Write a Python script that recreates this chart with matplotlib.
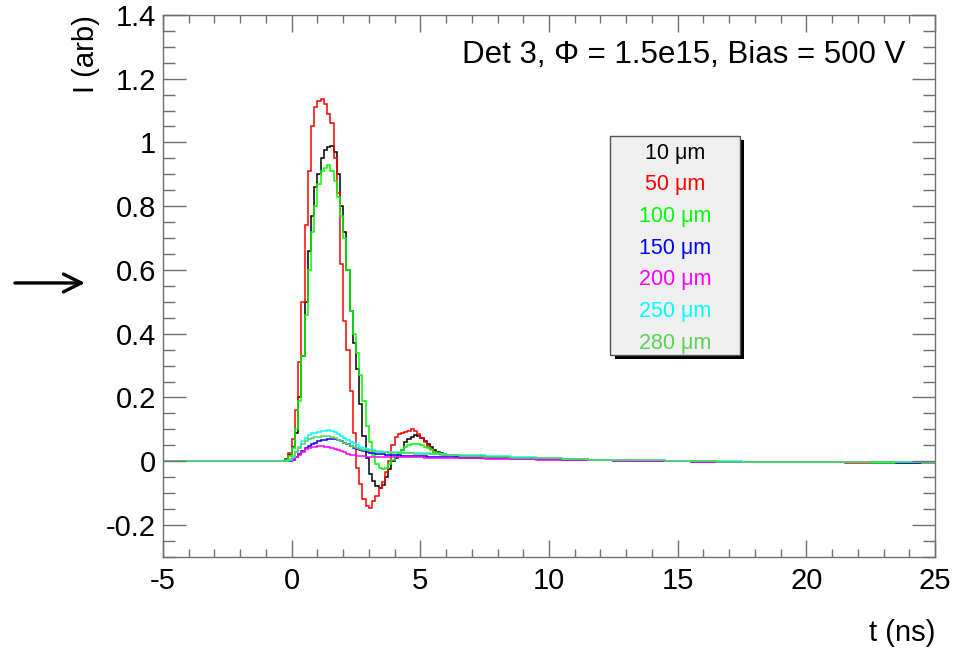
import numpy as np
import matplotlib
matplotlib.use("Agg")
import matplotlib.pyplot as plt
from matplotlib.patches import Rectangle

plt.rcParams['font.family'] = ['Liberation Sans', 'DejaVu Sans']

# bin edges (ns): coarse lead-in, fine pulse region, coarse tail
lead_edges = [-5.0, -4.0, -3.0, -2.0, -1.0, -0.5]
pulse_edges = -0.5 + 0.125 * np.arange(57)
tail_edges = 6.5 + np.arange(20)

labels = ["10 \u03bcm", "50 \u03bcm", "100 \u03bcm", "150 \u03bcm",
          "200 \u03bcm", "250 \u03bcm", "280 \u03bcm"]
colors = ["#000000", "#ff0000", "#00ff00", "#0000ff",
          "#ff00ff", "#00ffff", "#59d454"]

# 10 um
lead_10 = [0.0, 0.0, 0.001, 0.0, 0.0]
pulse_10 = [0.0, 0.002, 0.006, 0.02, 0.045, 0.09, 0.2, 0.33, 0.5, 0.66,
            0.77, 0.86, 0.9, 0.95, 0.975, 0.985, 0.99, 0.97, 0.9, 0.8,
            0.72, 0.6, 0.47, 0.37, 0.29, 0.18, 0.08, 0.01, -0.04, -0.063,
            -0.079, -0.085, -0.075, -0.05, -0.025, 0.0, 0.01, 0.025, 0.035, 0.06,
            0.07, 0.077, 0.082, 0.08, 0.072, 0.062, 0.054, 0.046, 0.035, 0.03,
            0.026, 0.023, 0.021, 0.02, 0.018, 0.017]
tail_10 = [0.015, 0.012, 0.01, 0.008, 0.006, 0.004, 0.003, 0.002, 0.0, -0.001,
           -0.002, -0.003, -0.003, -0.004, -0.004, -0.004, -0.005, -0.005, -0.005]

# 50 um
lead_50 = [0.0, 0.0, 0.0, 0.001, 0.0]
pulse_50 = [0.0, 0.002, 0.005, 0.025, 0.07, 0.16, 0.31, 0.5, 0.74, 0.91,
            1.05, 1.11, 1.13, 1.135, 1.12, 1.09, 1.06, 0.95, 0.84, 0.62,
            0.44, 0.35, 0.22, 0.09, -0.02, -0.07, -0.12, -0.14, -0.147, -0.125,
            -0.11, -0.085, -0.065, -0.035, 0.0, 0.05, 0.075, 0.085, 0.088, 0.093,
            0.096, 0.1, 0.095, 0.085, 0.073, 0.06, 0.048, 0.038, 0.03, 0.026,
            0.023, 0.021, 0.02, 0.019, 0.018, 0.017]
tail_50 = [0.015, 0.012, 0.01, 0.007, 0.005, 0.004, 0.003, 0.002, 0.001, 0.0,
           -0.002, -0.003, -0.004, -0.003, -0.004, -0.005, -0.004, -0.005, -0.005]

# 100 um
lead_100 = [0.0, 0.001, 0.0, 0.0, 0.0]
pulse_100 = [0.0, 0.001, 0.004, 0.015, 0.04, 0.1, 0.19, 0.33, 0.46, 0.6,
             0.72, 0.8, 0.87, 0.91, 0.92, 0.928, 0.91, 0.88, 0.83, 0.77,
             0.7, 0.6, 0.47, 0.4, 0.34, 0.27, 0.19, 0.11, 0.06, 0.02,
             -0.01, -0.022, -0.026, -0.02, -0.01, 0.005, 0.015, 0.026, 0.036, 0.046,
             0.051, 0.054, 0.055, 0.054, 0.05, 0.045, 0.04, 0.034, 0.03, 0.027,
             0.023, 0.021, 0.02, 0.019, 0.018, 0.017]
tail_100 = [0.016, 0.013, 0.01, 0.008, 0.006, 0.004, 0.003, 0.001, 0.0, -0.001,
            -0.002, -0.003, -0.004, -0.004, -0.003, -0.004, -0.005, -0.005, -0.005]

# 150 um
lead_150 = [0.0, 0.0, 0.0, 0.0, 0.0]
pulse_150 = [0.0, 0.0, 0.001, 0.002, 0.005, 0.012, 0.022, 0.032, 0.041, 0.049,
             0.054, 0.058, 0.062, 0.065, 0.067, 0.069, 0.07, 0.069, 0.066, 0.062,
             0.058, 0.053, 0.048, 0.043, 0.039, 0.035, 0.032, 0.029, 0.027, 0.025,
             0.024, 0.023, 0.022, 0.021, 0.02, 0.019, 0.018, 0.018, 0.017, 0.017,
             0.016, 0.016, 0.016, 0.015, 0.015, 0.015, 0.014, 0.014, 0.014, 0.013,
             0.013, 0.013, 0.013, 0.012, 0.012, 0.012]
tail_150 = [0.011, 0.009, 0.007, 0.006, 0.004, 0.003, 0.002, 0.001, 0.0, -0.001,
            -0.002, -0.002, -0.003, -0.003, -0.004, -0.004, -0.004, -0.005, -0.005]

# 200 um
lead_200 = [0.0, 0.0, 0.0, 0.0, 0.0]
pulse_200 = [0.0, 0.0, 0.0, 0.002, 0.006, 0.012, 0.02, 0.03, 0.037, 0.042,
             0.045, 0.046, 0.047, 0.047, 0.046, 0.044, 0.042, 0.039, 0.035, 0.031,
             0.028, 0.024, 0.021, 0.019, 0.017, 0.016, 0.015, 0.014, 0.013, 0.013,
             0.013, 0.013, 0.013, 0.013, 0.013, 0.013, 0.013, 0.013, 0.013, 0.012,
             0.012, 0.012, 0.012, 0.012, 0.012, 0.011, 0.011, 0.011, 0.011, 0.011,
             0.011, 0.011, 0.01, 0.01, 0.01, 0.01]
tail_200 = [0.009, 0.008, 0.006, 0.005, 0.004, 0.003, 0.002, 0.001, 0.0, -0.001,
            -0.001, -0.002, -0.003, -0.003, -0.003, -0.004, -0.004, -0.004, -0.005]

# 250 um
lead_250 = [0.0, 0.0, 0.0, 0.0, 0.0]
pulse_250 = [0.0, 0.0, 0.002, 0.005, 0.012, 0.03, 0.045, 0.062, 0.073, 0.083,
             0.088, 0.09, 0.092, 0.094, 0.096, 0.0965, 0.095, 0.091, 0.086, 0.08,
             0.073, 0.067, 0.061, 0.056, 0.051, 0.046, 0.042, 0.039, 0.036, 0.034,
             0.032, 0.031, 0.03, 0.029, 0.029, 0.028, 0.028, 0.028, 0.028, 0.027,
             0.027, 0.027, 0.026, 0.026, 0.026, 0.025, 0.025, 0.024, 0.023, 0.023,
             0.022, 0.022, 0.021, 0.021, 0.02, 0.02]
tail_250 = [0.018, 0.015, 0.012, 0.009, 0.007, 0.005, 0.004, 0.003, 0.002, 0.001,
            0.0, -0.001, -0.002, -0.002, -0.003, -0.003, -0.003, -0.004, -0.004]

# 280 um
lead_280 = [0.0, 0.0, 0.0, 0.0, 0.0]
pulse_280 = [0.0, 0.0, 0.002, 0.006, 0.015, 0.028, 0.042, 0.055, 0.064, 0.07,
             0.074, 0.076, 0.077, 0.078, 0.079, 0.079, 0.077, 0.073, 0.068, 0.063,
             0.058, 0.053, 0.049, 0.045, 0.042, 0.039, 0.036, 0.034, 0.032, 0.031,
             0.03, 0.029, 0.029, 0.028, 0.027, 0.027, 0.026, 0.026, 0.026, 0.025,
             0.025, 0.025, 0.024, 0.024, 0.024, 0.023, 0.023, 0.023, 0.022, 0.022,
             0.021, 0.021, 0.021, 0.02, 0.02, 0.019]
tail_280 = [0.017, 0.014, 0.011, 0.009, 0.007, 0.005, 0.004, 0.003, 0.001, 0.0,
            -0.001, -0.002, -0.002, -0.003, -0.003, -0.004, -0.004, -0.004, -0.005]

series = [
    (lead_10, pulse_10, tail_10),
    (lead_50, pulse_50, tail_50),
    (lead_100, pulse_100, tail_100),
    (lead_150, pulse_150, tail_150),
    (lead_200, pulse_200, tail_200),
    (lead_250, pulse_250, tail_250),
    (lead_280, pulse_280, tail_280),
]

edges = np.concatenate([lead_edges[:-1], pulse_edges[:-1], tail_edges])

fig = plt.figure(figsize=(9.59, 6.49), dpi=100)
ax = fig.add_axes([0.170, 0.142, 0.805, 0.835])

for (lead, pulse, tail), col in zip(series, colors):
    vals = np.concatenate([lead, pulse, tail])
    ax.stairs(vals, edges, baseline=None, color=col, linewidth=1.1)

ax.set_xlim(-5, 25)
ax.set_ylim(-0.3, 1.4)

xticks = [-5, 0, 5, 10, 15, 20, 25]
yticks = [-0.2, 0, 0.2, 0.4, 0.6, 0.8, 1.0, 1.2, 1.4]
ytick_labels = ["-0.2", "0", "0.2", "0.4", "0.6", "0.8", "1", "1.2", "1.4"]
ax.set_xticks(xticks)
ax.set_xticklabels([str(t) for t in xticks])
ax.set_yticks(yticks)
ax.set_yticklabels(ytick_labels)
ax.set_xticks(np.arange(-5, 26, 1), minor=True)
ax.set_yticks(np.arange(-0.3, 1.41, 0.05), minor=True)

axis_col = "#707070"
for sp in ax.spines.values():
    sp.set_color(axis_col)
    sp.set_linewidth(1.0)
ax.tick_params(axis='both', which='both', direction='in', top=True, right=True,
               color=axis_col, width=1.0, labelsize=21)
ax.tick_params(axis='x', which='major', length=12, pad=7)
ax.tick_params(axis='x', which='minor', length=6)
ax.tick_params(axis='y', which='major', length=16.5, pad=5)
ax.tick_params(axis='y', which='minor', length=8.3)

ax.set_xlabel("t (ns)", fontsize=21, loc='right')
ax.xaxis.set_label_coords(1.0, -0.115)
ax.set_ylabel("I (arb)", fontsize=21, loc='top')
ax.yaxis.set_label_coords(-0.082, 1.0)

ax.text(0.961, 0.926, "Det 3, \u03a6 = 1.5e15, Bias = 500 V", transform=ax.transAxes,
        ha='right', va='center', fontsize=22.5)

# legend box with shadow
bx0, by0, bw, bh = 0.579, 0.373, 0.168, 0.404
ax.add_patch(Rectangle((bx0 + 0.006, by0 - 0.008), bw, bh, transform=ax.transAxes,
                       facecolor='black', edgecolor='none', zorder=5))
ax.add_patch(Rectangle((bx0, by0), bw, bh, transform=ax.transAxes,
                       facecolor='#f0f0f0', edgecolor='#555555', linewidth=1.0, zorder=6))
for i, (lab, col) in enumerate(zip(labels, colors)):
    ax.text(bx0 + bw / 2, 0.745 - i * 0.0585, lab, transform=ax.transAxes,
            ha='center', va='center', fontsize=15.5, color=col, zorder=7)

# arrow left of the axis
ax.annotate("", xy=(0.0886, 0.564), xytext=(0.0156, 0.564),
            xycoords='figure fraction', textcoords='figure fraction',
            annotation_clip=False,
            arrowprops=dict(arrowstyle='->', lw=2.4, color='black',
                            mutation_scale=32, shrinkA=0, shrinkB=0))

fig.savefig("out.png", dpi=100)
